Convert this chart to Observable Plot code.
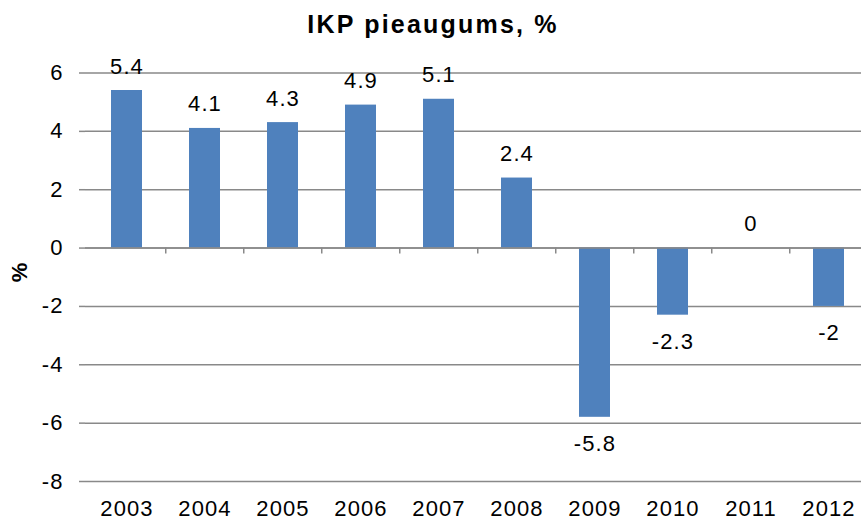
<!DOCTYPE html>
<html><head><meta charset="utf-8">
<script src="https://cdn.jsdelivr.net/npm/d3@7"></script>
<script src="https://cdn.jsdelivr.net/npm/@observablehq/plot@0.6"></script>
<style>
body{margin:0;background:#fff;font-family:"Liberation Sans",Arial,sans-serif;}
#title{width:861px;height:45px;box-sizing:border-box;padding-top:12px;padding-left:5px;font-weight:bold;font-size:25px;line-height:25px;letter-spacing:2.2px;text-align:center;color:#000;white-space:nowrap}
</style></head><body>
<div id="title">IKP pieaugums, %</div>
<div id="chart"></div>
<script>
const titleText = "IKP pieaugums, %";
const years = ["2003","2004","2005","2006","2007","2008","2009","2010","2011","2012"];
const values = [5.4, 4.1, 4.3, 4.9, 5.1, 2.4, -5.8, -2.3, 0, -2];
const yTicks = [6, 4, 2, 0, -2, -4, -6, -8];
const yLabel = "%";

document.getElementById("title").textContent = titleText;

const data = years.map((year, i) => ({year, value: values[i]}));
const W = 861, H = 475;
const mTop = 27.5, mBottom = 39, mLeft = 85;
const pxPerUnit = (H - mBottom - mTop) / (6 - (-8));
const xRange = [85, 870];
const step = (xRange[1] - xRange[0]) / years.length;
const grey = "#898989";
const font = "'Liberation Sans', Arial, sans-serif";

const chart = Plot.plot({
  width: W, height: H,
  marginTop: mTop, marginBottom: mBottom, marginLeft: mLeft, marginRight: 0,
  style: {fontFamily: font, fontSize: "22px", color: "#000", background: "#fff", letterSpacing: "1.1px", overflow: "hidden"},
  x: {type: "band", domain: years, range: xRange, paddingInner: 0.605, paddingOuter: 0.3, label: null},
  y: {domain: [-8, 6], label: null},
  marks: [
    Plot.gridY(yTicks, {stroke: grey, strokeOpacity: 1, strokeWidth: 1.5}),
    Plot.barY(data, {x: "year", y: "value", fill: "#4F81BD"}),
    Plot.ruleY([0], {stroke: grey, strokeWidth: 1.5}),
    Plot.ruleX(data.slice(1), {x: "year", y1: 0, y2: -6 / pxPerUnit, dx: -step / 2, stroke: grey, strokeWidth: 1.5}),
    Plot.axisY(yTicks, {tickSize: 6, tickPadding: 16, tickFormat: d => String(d), stroke: grey, strokeWidth: 1.5, line: true, label: null, fontSize: 22, fill: "#000"}),
    Plot.axisX({tickSize: 0, tickPadding: 19, label: null, fontSize: 22, fill: "#000"}),
    Plot.text(data.filter(d => d.value >= 0), {x: "year", y: "value", text: d => String(d.value), lineAnchor: "bottom", dy: -17, fontSize: 22, fill: "#000"}),
    Plot.text(data.filter(d => d.value < 0), {x: "year", y: "value", text: d => String(d.value), lineAnchor: "top", dy: 18, fontSize: 22, fill: "#000"}),
    Plot.text([yLabel], {frameAnchor: "left", dx: -66, dy: 5, rotate: -90, fontWeight: "bold", fontSize: 22, fill: "#000"})
  ]
});
document.getElementById("chart").appendChild(chart);
</script>
</body></html>
